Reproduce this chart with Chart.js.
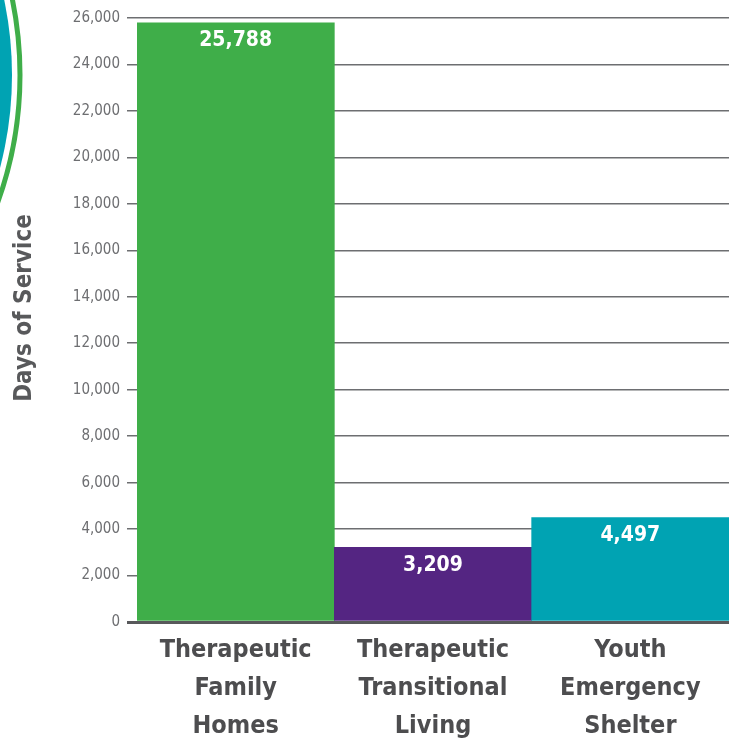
<!DOCTYPE html>
<html>
<head>
<meta charset="utf-8">
<script src="https://cdn.jsdelivr.net/npm/chart.js@4/dist/chart.umd.min.js"></script>
<style>
html,body{margin:0;padding:0;background:#fff;}
#wrap{width:729px;height:743px;position:relative;}
</style>
</head>
<body>
<div id="wrap"><canvas id="c" width="729" height="743"></canvas></div>
<script>
const categories = [["Therapeutic","Family","Homes"],["Therapeutic","Transitional","Living"],["Youth","Emergency","Shelter"]];
const daysOfService = [25788, 3209, 4497];
const barColors = ["#3fae49", "#542582", "#00a3b3"];
const axisTitle = "Days of Service";
const yMin = 0, yMax = 26000, yStep = 2000;

const FONT = "'Liberation Sans Narrow', 'DejaVu Sans Condensed', 'Arial Narrow', sans-serif";

const decoPlugin = {
  id: 'deco',
  beforeDraw(chart) {
    const ctx = chart.ctx;
    ctx.save();
    ctx.beginPath();
    ctx.arc(-355, 75, 367, 0, Math.PI * 2);
    ctx.fillStyle = '#00a3b3';
    ctx.fill();
    ctx.beginPath();
    ctx.arc(-355, 75, 375, 0, Math.PI * 2);
    ctx.lineWidth = 5;
    ctx.strokeStyle = '#3fae49';
    ctx.stroke();
    ctx.restore();
  }
};

const labelPlugin = {
  id: 'valueLabels',
  afterDatasetsDraw(chart) {
    const ctx = chart.ctx;
    const meta = chart.getDatasetMeta(0);
    ctx.save();
    ctx.fillStyle = '#ffffff';
    ctx.font = "bold 21px " + FONT;
    ctx.textAlign = 'center';
    ctx.textBaseline = 'middle';
    meta.data.forEach((bar, i) => {
      const v = chart.data.datasets[0].data[i];
      ctx.fillText(v.toLocaleString('en-US'), bar.x, bar.y + 18);
    });
    ctx.translate(25, 308);
    ctx.rotate(-Math.PI / 2);
    ctx.fillStyle = '#58595b';
    ctx.font = "bold 24px " + FONT;
    ctx.fillText(axisTitle, 0, 0);
    ctx.restore();
  }
};

new Chart(document.getElementById('c'), {
  type: 'bar',
  data: {
    labels: categories,
    datasets: [{
      data: daysOfService,
      backgroundColor: barColors,
      borderWidth: 0,
      barPercentage: 1,
      categoryPercentage: 1
    }]
  },
  options: {
    responsive: false,
    animation: false,
    devicePixelRatio: 1,
    layout: { padding: { top: 18, right: 0, left: 0, bottom: 0 } },
    plugins: { legend: { display: false }, tooltip: { enabled: false } },
    scales: {
      x: {
        grid: { display: false, drawTicks: false },
        border: { display: true, color: '#58595b', width: 3 },
        ticks: {
          color: '#4d4d4f',
          font: { family: FONT, size: 25, weight: 'bold', lineHeight: 38 / 25 },
          padding: 9,
          maxRotation: 0,
          autoSkip: false
        },
        afterFit(s) { s.height = 121; }
      },
      y: {
        min: yMin, max: yMax,
        border: { display: false },
        grid: {
          color: (c) => c.tick && c.tick.value === 0 ? '#58595b' : '#6d6e71',
          lineWidth: (c) => c.tick && c.tick.value === 0 ? 3 : 1.5,
          tickLength: 10,
          drawTicks: true
        },
        ticks: {
          stepSize: yStep,
          color: '#6d6e71',
          padding: 7,
          font: { family: FONT, size: 15 },
          callback: (v) => v.toLocaleString('en-US')
        },
        afterFit(s) { s.width = 137; }
      }
    }
  },
  plugins: [decoPlugin, labelPlugin]
});
</script>
</body>
</html>
